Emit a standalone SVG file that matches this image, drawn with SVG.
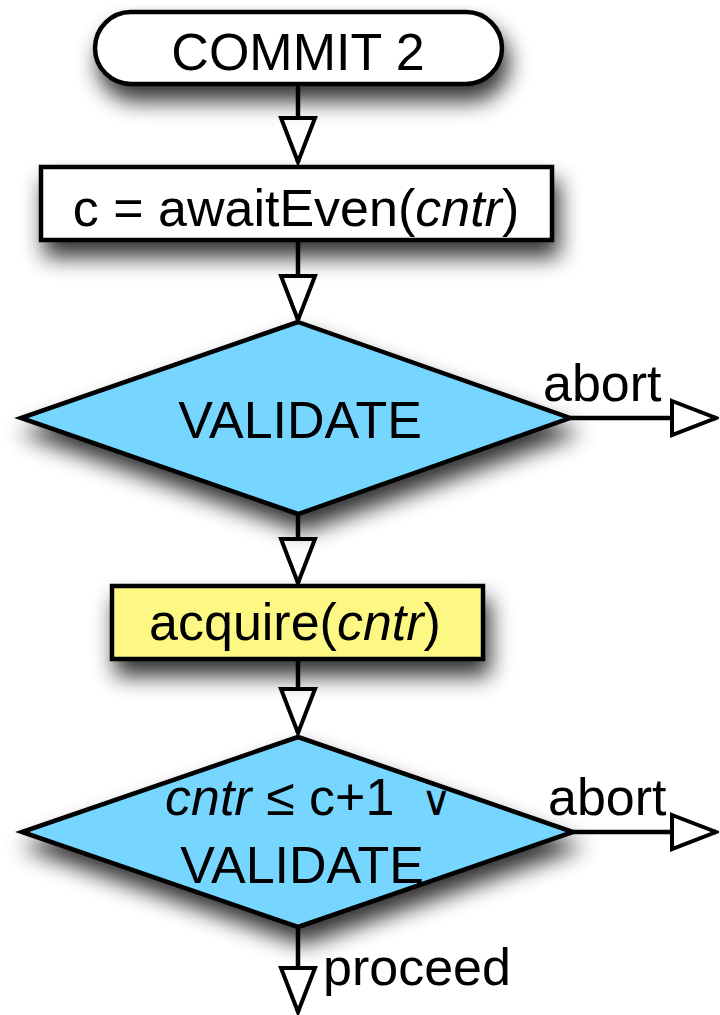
<svg xmlns="http://www.w3.org/2000/svg" width="720" height="1015" viewBox="0 0 720 1015">
<defs>
<filter id="sh" x="-20%" y="-30%" width="150%" height="190%">
<feGaussianBlur in="SourceAlpha" stdDeviation="11"/>
<feOffset dx="5" dy="15" result="b"/>
<feComponentTransfer><feFuncA type="linear" slope="0.8"/></feComponentTransfer>
<feMerge><feMergeNode/><feMergeNode in="SourceGraphic"/></feMerge>
</filter>
<marker id="ah" viewBox="0 0 50 40" refX="47" refY="20" markerWidth="50" markerHeight="40" markerUnits="userSpaceOnUse" orient="auto">
<path d="M3,3 L47,20 L3,37 Z" fill="#fff" stroke="#000" stroke-width="4" stroke-linejoin="miter"/>
</marker>
<style>
.s{stroke:#000;stroke-width:4.5}
.t{font-family:"Liberation Sans",Arial,sans-serif;font-size:52px;fill:#000}
.c{stroke:#000;stroke-width:4.5;fill:none}
.or{font-family:"DejaVu Sans",sans-serif;font-weight:200;font-size:42px;fill:#000}
</style>
</defs>
<g id="connectors">
<path class="c" d="M298,84 V162" marker-end="url(#ah)"/>
<path class="c" d="M298,240 V320" marker-end="url(#ah)"/>
<path class="c" d="M298,515 V583" marker-end="url(#ah)"/>
<path class="c" d="M298,659 V733" marker-end="url(#ah)"/>
<path class="c" d="M298,927 V1012" marker-end="url(#ah)"/>
<path class="c" d="M570,418 H716" marker-end="url(#ah)"/>
<path class="c" d="M573,832 H716" marker-end="url(#ah)"/>
<text class="t" x="543" y="401">abort</text>
<text class="t" x="548" y="815">abort</text>
<text class="t" x="323" y="985">proceed</text>
</g>
<g id="commit2">
<rect class="s" x="95" y="12" width="407" height="72" rx="36" fill="#fff" filter="url(#sh)"/>
<text class="t" x="298" y="70" text-anchor="middle">COMMIT 2</text>
</g>
<g id="awaitEven">
<rect class="s" x="41" y="167" width="511" height="73" fill="#fff" filter="url(#sh)"/>
<text class="t" x="296" y="226" text-anchor="middle">c = awaitEven(<tspan font-style="italic">cntr</tspan>)</text>
</g>
<g id="validate1">
<polygon class="s" points="298,322 570,418 298,514 21,418" fill="#76d6ff" filter="url(#sh)"/>
<text class="t" x="300" y="438" text-anchor="middle">VALIDATE</text>
</g>
<g id="acquire">
<rect class="s" x="112" y="586" width="371" height="73" fill="#fdf884" filter="url(#sh)"/>
<text class="t" x="295" y="640" text-anchor="middle">acquire(<tspan font-style="italic">cntr</tspan>)</text>
</g>
<g id="validate2">
<polygon class="s" points="298,737 573,832 298,927 22,832" fill="#76d6ff" filter="url(#sh)"/>
<text class="t" x="165" y="815"><tspan font-style="italic">cntr</tspan> ≤ c+1</text>
<text class="or" x="421" y="815">∨</text>
<text class="t" x="302" y="883" text-anchor="middle">VALIDATE</text>
</g>
</svg>
